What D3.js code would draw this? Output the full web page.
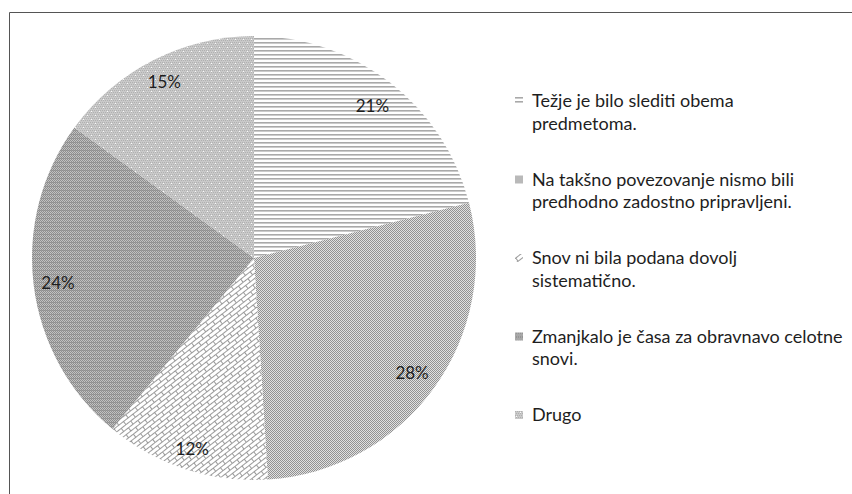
<!DOCTYPE html>
<html>
<head>
<meta charset="utf-8">
<script src="https://cdn.jsdelivr.net/npm/d3@7"></script>
<style>
  html, body { margin: 0; padding: 0; background: #fff; }
  svg { display: block; }
</style>
</head>
<body>
<svg id="chart" width="852" height="494"></svg>
<script>
// Survey answers and their shares (percent)
const categories = [
  "Težje je bilo slediti obema predmetoma.",
  "Na takšno povezovanje nismo bili predhodno zadostno pripravljeni.",
  "Snov ni bila podana dovolj sistematično.",
  "Zmanjkalo je časa za obravnavo celotne snovi.",
  "Drugo"
];
const values = [21, 28, 12, 24, 15];
const legendLines = [
  ["Težje je bilo slediti obema", "predmetoma."],
  ["Na takšno povezovanje nismo bili", "predhodno zadostno pripravljeni."],
  ["Snov ni bila podana dovolj", "sistematično."],
  ["Zmanjkalo je časa za obravnavo celotne", "snovi."],
  ["Drugo"]
];

const svg = d3.select("#chart");
const defs = svg.append("defs");

// --- fill patterns ---
// 0: horizontal lines
const p0 = defs.append("pattern").attr("id", "pat0").attr("patternUnits", "userSpaceOnUse")
  .attr("width", 8).attr("height", 4);
p0.append("rect").attr("width", 8).attr("height", 4).attr("fill", "#fff");
p0.append("rect").attr("y", 0).attr("width", 8).attr("height", 1.6).attr("fill", "#a9a9a9");

// 1: fine checkerboard
const p1 = defs.append("pattern").attr("id", "pat1").attr("patternUnits", "userSpaceOnUse")
  .attr("width", 2).attr("height", 2);
p1.append("rect").attr("width", 2).attr("height", 2).attr("fill", "#e0e0e0");
p1.append("rect").attr("x", 0).attr("y", 0).attr("width", 1).attr("height", 1).attr("fill", "#929292");
p1.append("rect").attr("x", 1).attr("y", 1).attr("width", 1).attr("height", 1).attr("fill", "#929292");

// 2: diagonal brick
const p2 = defs.append("pattern").attr("id", "pat2").attr("patternUnits", "userSpaceOnUse")
  .attr("width", 12).attr("height", 8).attr("patternTransform", "rotate(-38)");
p2.append("rect").attr("width", 12).attr("height", 8).attr("fill", "#fff");
p2.append("path")
  .attr("d", "M0,0.5H12 M0,4.5H12 M0.5,0.5V4.5 M6.5,4.5V8")
  .attr("stroke", "#9a9a9a").attr("stroke-width", 1).attr("fill", "none");

// 3: dark dense grey with faint rows
const p3 = defs.append("pattern").attr("id", "pat3").attr("patternUnits", "userSpaceOnUse")
  .attr("width", 2).attr("height", 4);
p3.append("rect").attr("width", 2).attr("height", 4).attr("fill", "#c2c2c2");
p3.append("rect").attr("x", 0).attr("y", 0).attr("width", 1).attr("height", 1).attr("fill", "#8e8e8e");
p3.append("rect").attr("x", 1).attr("y", 1).attr("width", 1).attr("height", 1).attr("fill", "#8e8e8e");
p3.append("rect").attr("x", 0).attr("y", 2).attr("width", 1).attr("height", 1).attr("fill", "#8e8e8e");
p3.append("rect").attr("x", 1).attr("y", 3).attr("width", 1).attr("height", 1).attr("fill", "#8e8e8e");
p3.append("rect").attr("x", 1).attr("y", 0).attr("width", 1).attr("height", 1).attr("fill", "#9c9c9c");

// 4: light grey with white dots
const p4 = defs.append("pattern").attr("id", "pat4").attr("patternUnits", "userSpaceOnUse")
  .attr("width", 8).attr("height", 8);
p4.append("rect").attr("width", 8).attr("height", 8).attr("fill", "#c9c9c9");
[[0,0],[2,0],[4,0],[6,0],[1,2],[3,2],[5,2],[7,2],[0,4],[2,4],[4,4],[6,4],[1,6],[3,6],[5,6],[7,6]]
  .forEach(([x, y]) => p4.append("rect").attr("x", x).attr("y", y).attr("width", 1).attr("height", 1).attr("fill", "#b0b0b0"));
[[1,1],[5,5]].forEach(([x, y]) => p4.append("rect").attr("x", x).attr("y", y).attr("width", 1).attr("height", 1).attr("fill", "#fafafa"));

const fills = categories.map((c, i) => `url(#pat${i})`);

// --- frame (top and left edges of the chart area) ---
svg.append("path")
  .attr("d", "M9.5,494V12.5H852")
  .attr("fill", "none").attr("stroke", "#555").attr("stroke-width", 1);

// --- pie ---
const cx = 254, cy = 258, r = 222;
const pie = d3.pie().sort(null).value(d => d);
const arc = d3.arc().innerRadius(0).outerRadius(r);
const arcs = pie(values);

const g = svg.append("g").attr("transform", `translate(${cx},${cy})`);
g.selectAll("path.slice").data(arcs).join("path")
  .attr("class", "slice")
  .attr("d", arc)
  .attr("fill", (d, i) => fills[i]);

// percentage labels, placed near the rim of each slice
const labelRadii = [0.87, 0.88, 0.90, 0.89, 0.89];
g.selectAll("text.pct").data(arcs).join("text")
  .attr("class", "pct")
  .attr("transform", (d, i) => {
    const a = (d.startAngle + d.endAngle) / 2;
    const rr = r * labelRadii[i];
    return `translate(${Math.sin(a) * rr},${-Math.cos(a) * rr})`;
  })
  .attr("text-anchor", "middle")
  .attr("dominant-baseline", "central")
  .attr("font-family", "Lato, 'Open Sans', sans-serif")
  .attr("font-size", 17)
  .attr("fill", "#1e1e1e")
  .text(d => d.data + "%");

// --- legend ---
const legend = svg.append("g").attr("transform", "translate(515,101)");
const item = legend.selectAll("g.item").data(categories).join("g")
  .attr("class", "item")
  .attr("transform", (d, i) => `translate(0,${i * 78.5})`);
item.append("rect")
  .attr("x", 0).attr("y", -4).attr("width", 8).attr("height", 8)
  .attr("fill", (d, i) => fills[i]);
item.append("text")
  .attr("font-family", "Lato, 'Open Sans', sans-serif")
  .attr("font-size", 18)
  .attr("fill", "#1e1e1e")
  .each(function (d, i) {
    d3.select(this).selectAll("tspan").data(legendLines[i]).join("tspan")
      .attr("x", 17)
      .attr("y", (t, j) => j * 22.5)
      .attr("dy", "0.35em")
      .text(t => t);
  });
</script>
</body>
</html>
